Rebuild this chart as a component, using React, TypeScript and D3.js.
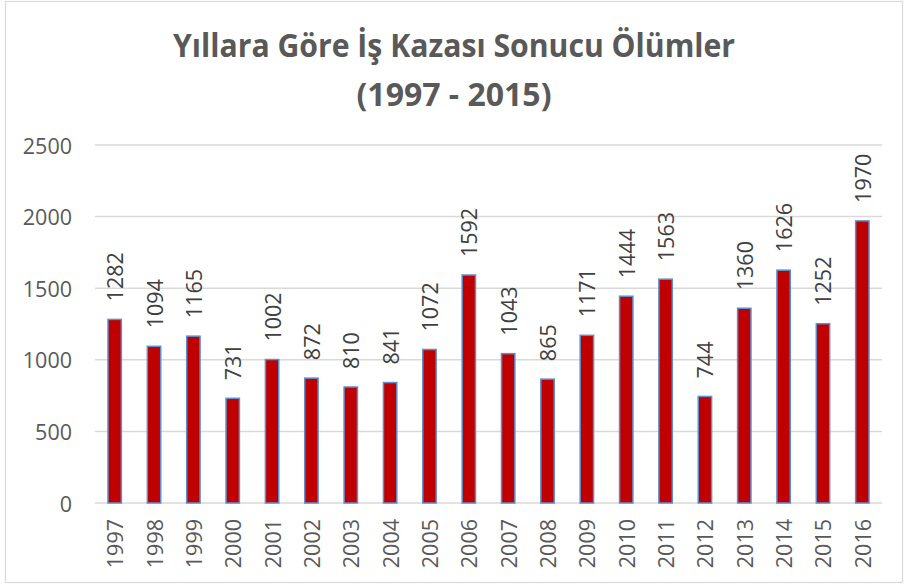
import React, { useEffect, useRef } from "react";
import * as d3 from "d3";

const years = ["1997","1998","1999","2000","2001","2002","2003","2004","2005","2006","2007","2008","2009","2010","2011","2012","2013","2014","2015","2016"];
const deaths = [1282,1094,1165,731,1002,872,810,841,1072,1592,1043,865,1171,1444,1563,744,1360,1626,1252,1970];
const yTicks = [0,500,1000,1500,2000,2500];
const titleLines = ["Yıllara Göre İş Kazası Sonucu Ölümler", "(1997 - 2015)"];

const W = 908, H = 585;
const FONT = "'Open Sans', 'Liberation Sans', sans-serif";

export default function App() {
  const ref = useRef<SVGSVGElement>(null);
  useEffect(() => {
    document.body.style.margin = "0";
    const svg = d3.select(ref.current);
    svg.selectAll("*").remove();

    svg.append("rect").attr("x", 0).attr("y", 0).attr("width", W).attr("height", H).attr("fill", "#fff");
    svg.append("rect").attr("x", 5.5).attr("y", 1.5).attr("width", 897).attr("height", 581)
      .attr("fill", "none").attr("stroke", "#D9D9D9").attr("stroke-width", 1.2);

    const x = d3.scaleBand<string>().domain(years).range([95, 882]).paddingInner(0.66).paddingOuter(0.33);
    const y = d3.scaleLinear().domain([0, 2500]).range([503, 145]);

    svg.append("g").selectAll("line").data(yTicks).join("line")
      .attr("x1", 95).attr("x2", 882)
      .attr("y1", d => y(d)).attr("y2", d => y(d))
      .attr("stroke", "#D9D9D9").attr("stroke-width", 1.5);

    svg.append("g").selectAll("text").data(yTicks).join("text")
      .attr("x", 72).attr("y", d => y(d))
      .attr("text-anchor", "end").attr("dominant-baseline", "central")
      .attr("font-family", FONT).attr("font-size", 21.5).attr("fill", "#595959")
      .text(d => String(d));

    svg.append("g").selectAll("rect").data(deaths).join("rect")
      .attr("x", (d, i) => x(years[i])!)
      .attr("width", x.bandwidth())
      .attr("y", d => y(d))
      .attr("height", d => y(0) - y(d))
      .attr("fill", "#C00000").attr("stroke", "#5B8FD0").attr("stroke-width", 1.5);

    svg.append("g").selectAll("text").data(deaths).join("text")
      .attr("transform", (d, i) => `translate(${x(years[i])! + x.bandwidth() / 2},${y(d) - 18}) rotate(-90)`)
      .attr("text-anchor", "start").attr("dominant-baseline", "central")
      .attr("font-family", FONT).attr("font-size", 21.5).attr("fill", "#404040")
      .text(d => String(d));

    svg.append("g").selectAll("text").data(years).join("text")
      .attr("transform", d => `translate(${x(d)! + x.bandwidth() / 2},519) rotate(-90)`)
      .attr("text-anchor", "end").attr("dominant-baseline", "central")
      .attr("font-family", FONT).attr("font-size", 21.5).attr("fill", "#595959")
      .text(d => d);

    svg.append("g").selectAll("text").data(titleLines).join("text")
      .attr("x", 454).attr("y", (d, i) => 57 + i * 49)
      .attr("text-anchor", "middle")
      .attr("font-family", FONT).attr("font-weight", "bold").attr("font-size", 32).attr("fill", "#595959")
      .attr("textLength", (d, i) => (i === 0 ? 562 : null))
      .attr("lengthAdjust", "spacingAndGlyphs")
      .text(d => d);
  }, []);
  return <svg ref={ref} width={W} height={H} style={{ display: "block" }} />;
}
